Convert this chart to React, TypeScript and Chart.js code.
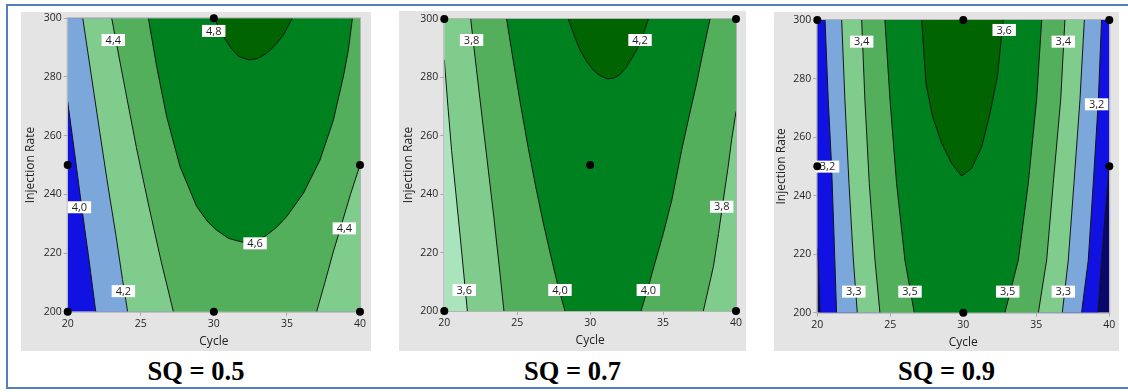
import { useEffect, useRef } from 'react';
import { Chart, registerables } from 'chart.js';

Chart.register(...registerables);

// [Cycle, Injection Rate]
type Pt = [number, number];
type Label = [string, number, number];
interface Band { color: string; poly: Pt[] }

const cycleRange: Pt = [20, 40];
const rateRange: Pt = [200, 300];
const cycleTicks = [20, 25, 30, 35, 40];
const rateTicks = [200, 220, 240, 260, 280, 300];

const NAVY = '#09096c';
const DARK_BLUE = '#1111e2';
const LIGHT_BLUE = '#7ba7db';
const PALE_GREEN = '#a9e4bd';
const LIGHT_GREEN = '#80cc8c';
const MID_GREEN = '#53af5b';
const GREEN = '#008120';
const DARK_GREEN = '#006400';

// ---- SQ = 0.5 contour lines ----
const sq05_40: Pt[] = [[20, 271.5], [20.45, 255], [20.95, 236], [21.45, 218], [21.92, 200]];
const sq05_42: Pt[] = [[21.03, 300], [21.6, 281], [22.2, 261], [22.75, 243], [23.3, 226], [23.75, 211], [24.1, 200]];
const sq05_44L: Pt[] = [[23.01, 300], [23.85, 278], [24.7, 256], [25.55, 236], [26.4, 217], [27.23, 200]];
const sq05_44R: Pt[] = [[37.03, 200], [37.6, 210], [38.15, 220], [38.75, 230], [39.35, 240], [40, 250]];
const sq05_46: Pt[] = [
  [25.52, 300], [26.09, 283.5], [26.77, 266.5], [27.69, 249.4], [28.83, 235.8], [29.6, 230.5],
  [30.19, 227.8], [31.0, 225], [31.79, 223.9], [32.4, 223.4], [33.0, 224.2], [33.61, 226.1],
  [34.3, 228.8], [34.98, 232.4], [36.12, 240.3], [37.26, 251.7], [38.18, 265.3], [38.86, 280.1],
  [39.2, 289], [39.48, 300],
];
const sq05_48: Pt[] = [
  [30.05, 300], [30.5, 295], [31.1, 290.3], [31.7, 287], [32.4, 285.8], [33.0, 286.3],
  [33.6, 288], [34.2, 290.8], [34.75, 294.3], [35.37, 300],
];
const sq05Labels: Label[] = [
  ['4,4', 23.12, 292.6], ['4,8', 29.99, 295.7], ['4,0', 20.8, 235.6],
  ['4,2', 23.81, 207], ['4,6', 32.82, 223.3], ['4,4', 38.93, 228.4],
];
const sq05Design: Pt[] = [[30, 300], [20, 250], [40, 250], [20, 200], [30, 200], [40, 200]];

// ---- SQ = 0.7 contour lines ----
const sq07_36: Pt[] = [[20, 286], [20.25, 270], [20.5, 255], [20.8, 240], [21.1, 225], [21.35, 212], [21.58, 200]];
const sq07_38L: Pt[] = [[21.81, 300], [22.2, 283], [22.6, 266], [23.0, 249], [23.4, 232], [23.75, 216], [24.09, 200]];
const sq07_38R: Pt[] = [[37.76, 200], [38.1, 207.5], [38.45, 215.2], [38.8, 226.5], [39.13, 238], [39.45, 249], [39.7, 258.6], [40, 268.3]];
const sq07_40L: Pt[] = [[24.27, 300], [24.75, 285], [25.25, 270], [25.75, 256], [26.25, 243], [26.75, 231], [27.25, 220], [27.75, 209.5], [28.27, 200]];
const sq07_40R: Pt[] = [[33.49, 200], [34.0, 208.5], [34.5, 217.5], [35.02, 226.6], [35.6, 238], [36.27, 255], [36.8, 267], [37.3, 278], [37.75, 289], [38.22, 300]];
const sq07_42: Pt[] = [
  [28.5, 300], [28.9, 294.5], [29.3, 289.4], [29.75, 285.5], [30.22, 282.5], [30.7, 280.5],
  [31.2, 279.5], [31.6, 279.7], [32.05, 281], [32.5, 283.7], [32.85, 286.5], [33.19, 289.4],
  [33.6, 294], [33.99, 300],
];
const sq07Labels: Label[] = [
  ['3,8', 21.87, 292.8], ['4,2', 33.42, 292.8], ['3,8', 39.02, 235.7],
  ['3,6', 21.37, 207.2], ['4,0', 27.93, 207.2], ['4,0', 33.99, 207.2],
];
const sq07Design: Pt[] = [[20, 300], [40, 300], [30, 250], [20, 200], [40, 200]];

// ---- SQ = 0.9 contour lines ----
const sq09_31L: Pt[] = [[20, 222], [20.1, 211], [20.2, 200]];
const sq09_31R: Pt[] = [[39.22, 200], [39.47, 218], [39.7, 232.8], [40, 250]];
const sq09_32L: Pt[] = [[20.53, 300], [20.75, 272.7], [20.98, 249.9], [21.14, 227.1], [21.32, 200]];
const sq09_32R: Pt[] = [[38.1, 200], [38.56, 218], [38.9, 244.2], [39.25, 272.7], [39.47, 300]];
const sq09_33L: Pt[] = [[21.67, 300], [21.89, 272.7], [22.17, 244.2], [22.47, 218], [22.74, 200]];
const sq09_33R: Pt[] = [[36.78, 200], [37.19, 218], [37.58, 244.2], [37.99, 272.7], [38.29, 300]];
const sq09_34L: Pt[] = [[23.04, 300], [23.26, 272.7], [23.56, 244.2], [23.95, 218], [24.29, 200]];
const sq09_34R: Pt[] = [[35.14, 200], [35.71, 218], [36.16, 244.2], [36.67, 272.7], [36.96, 300]];
const sq09_35L: Pt[] = [[24.63, 300], [24.98, 272.7], [25.43, 244.2], [26.0, 218], [26.64, 200]];
const sq09_35R: Pt[] = [[32.85, 200], [33.77, 218], [34.45, 244.2], [35.02, 272.7], [35.37, 300]];
const sq09_36: Pt[] = [
  [27.15, 300], [27.44, 278.4], [27.9, 267], [28.52, 257.9], [29.2, 251], [29.89, 246.7],
  [30.57, 249.3], [31.26, 256.7], [31.83, 268.1], [32.33, 280.6], [32.74, 300],
];
const sq09Labels: Label[] = [
  ['3,4', 23.04, 292.6], ['3,6', 32.8, 296.6], ['3,4', 36.85, 292.6], ['3,2', 39.13, 271.2],
  ['3,2', 20.7, 249.9], ['3,3', 22.5, 207.2], ['3,5', 26.35, 207.2], ['3,5', 33.04, 207.2],
  ['3,3', 36.85, 207.2],
];
const sq09Design: Pt[] = [[20, 300], [30, 300], [40, 300], [20, 250], [40, 250], [30, 200]];

const [c0, c1] = cycleRange;
const [r0, r1] = rateRange;
const full: Pt[] = [[c0, r0], [c1, r0], [c1, r1], [c0, r1]];

// Filled regions are painted from the lowest level up (each one is a superlevel set).
const sq05Bands: Band[] = [
  { color: DARK_BLUE, poly: full },
  { color: LIGHT_BLUE, poly: [...sq05_40, [c1, r0], [c1, r1], [c0, r1]] },
  { color: LIGHT_GREEN, poly: [...sq05_42, [c1, r0], [c1, r1]] },
  { color: MID_GREEN, poly: [...sq05_44L, ...sq05_44R, [c1, r1]] },
  { color: GREEN, poly: sq05_46 },
  { color: DARK_GREEN, poly: sq05_48 },
];
const sq07Bands: Band[] = [
  { color: PALE_GREEN, poly: full },
  { color: LIGHT_GREEN, poly: [...sq07_36, [c1, r0], [c1, r1], [c0, r1]] },
  { color: MID_GREEN, poly: [...sq07_38L, ...sq07_38R, [c1, r1]] },
  { color: GREEN, poly: [...sq07_40L, ...sq07_40R] },
  { color: DARK_GREEN, poly: sq07_42 },
];
const sq09Bands: Band[] = [
  { color: NAVY, poly: full },
  { color: DARK_BLUE, poly: [...sq09_31L, ...sq09_31R, [c1, r1], [c0, r1]] },
  { color: LIGHT_BLUE, poly: [...sq09_32L, ...sq09_32R] },
  { color: LIGHT_GREEN, poly: [...sq09_33L, ...sq09_33R] },
  { color: MID_GREEN, poly: [...sq09_34L, ...sq09_34R] },
  { color: GREEN, poly: [...sq09_35L, ...sq09_35R] },
  { color: DARK_GREEN, poly: sq09_36 },
];

const FONT = "'Open Sans', 'Noto Sans', sans-serif";

interface Box { left: number; top: number; width: number; height: number }
interface Area { left: number; top: number; right: number; bottom: number }
interface PanelProps {
  title: string;
  box: Box;
  plot: Area;
  bands: Band[];
  lines: Pt[][];
  labels: Label[];
  design: Pt[];
  yTitlePad: number;
  xTitlePad: number;
}

const toXY = (p: Pt[]) => p.map(([x, y]) => ({ x, y }));

function ContourPanel(props: PanelProps) {
  const ref = useRef<HTMLCanvasElement>(null);
  const { box, plot, title } = props;

  useEffect(() => {
    const datasets: any[] = [];
    props.bands.forEach((b, i) => {
      datasets.push({
        data: toXY(b.poly), fill: 'shape', backgroundColor: b.color,
        borderWidth: 0, pointRadius: 0, order: 100 - i,
      });
    });
    props.lines.forEach((l) => {
      datasets.push({
        data: toXY(l), fill: false, borderColor: '#161616', borderWidth: 1,
        pointRadius: 0, order: 10,
      });
    });
    datasets.push({
      label: 'design', data: toXY(props.design), showLine: false, fill: false,
      pointRadius: 4, pointBackgroundColor: '#000', pointBorderWidth: 0, order: 0, clip: false,
    });

    const overlay = {
      id: 'contourOverlay',
      beforeDatasetDraw(chart: any, args: any) {
        if (chart.data.datasets[args.index].label !== 'design') return;
        const { ctx, chartArea: a, scales } = chart;
        ctx.save();
        ctx.strokeStyle = '#b3b3b3';
        ctx.lineWidth = 1;
        ctx.strokeRect(a.left - 0.5, a.top - 0.5, a.right - a.left + 1, a.bottom - a.top + 1);
        ctx.font = `11px ${FONT}`;
        ctx.textAlign = 'center';
        ctx.textBaseline = 'middle';
        for (const [t, cx, cy] of props.labels) {
          const px = scales.x.getPixelForValue(cx);
          const py = scales.y.getPixelForValue(cy);
          const w = ctx.measureText(t).width + 8;
          const h = 12;
          ctx.fillStyle = '#ffffff';
          ctx.fillRect(px - w / 2, py - h / 2, w, h);
          ctx.fillStyle = '#1e1e1e';
          ctx.fillText(t, px, py + 0.5);
        }
        ctx.restore();
      },
    };

    const tickFont = { family: FONT, size: 10.5 };
    const titleFont = { family: FONT, size: 12 };
    const chart = new Chart(ref.current!, {
      type: 'line',
      data: { datasets },
      options: {
        animation: false,
        responsive: true,
        maintainAspectRatio: false,
        events: [],
        layout: {
          padding: { left: 0, top: plot.top - box.top, right: box.left + box.width - plot.right, bottom: 0 },
        },
        plugins: { legend: { display: false }, tooltip: { enabled: false } },
        scales: {
          x: {
            type: 'linear', min: cycleRange[0], max: cycleRange[1],
            afterBuildTicks: (s: any) => { s.ticks = cycleTicks.map((v) => ({ value: v })); },
            ticks: { color: '#262626', font: tickFont, padding: 2, maxRotation: 0 },
            grid: { drawOnChartArea: false, drawTicks: true, tickLength: 4, color: '#a8a8a8' },
            border: { display: false },
            title: { display: true, text: 'Cycle', color: '#222', font: titleFont, padding: { top: 0, bottom: props.xTitlePad } },
            afterFit: (s: any) => {
              s.height = box.top + box.height - plot.bottom;
              s.paddingLeft = 0;
              s.paddingRight = 0;
            },
          },
          y: {
            type: 'linear', min: rateRange[0], max: rateRange[1],
            afterBuildTicks: (s: any) => { s.ticks = rateTicks.map((v) => ({ value: v })); },
            ticks: { color: '#262626', font: tickFont, padding: 2 },
            grid: { drawOnChartArea: false, drawTicks: true, tickLength: 4, color: '#a8a8a8' },
            border: { display: false },
            title: { display: true, text: 'Injection Rate', color: '#222', font: titleFont, padding: { top: props.yTitlePad, bottom: 0 } },
            afterFit: (s: any) => {
              s.width = plot.left - box.left;
              s.paddingTop = 0;
              s.paddingBottom = 0;
            },
          },
        },
      } as any,
      plugins: [overlay],
    });
    return () => chart.destroy();
  }, []);

  return (
    <>
      <div
        style={{
          position: 'absolute', left: box.left, top: box.top, width: box.width, height: box.height,
          background: '#e4e4e4',
        }}
      >
        <canvas ref={ref} />
      </div>
      <div
        style={{
          position: 'absolute', left: box.left, top: 356, width: box.width, textAlign: 'center',
          font: "bold 26.5px 'Liberation Serif', 'Times New Roman', serif", lineHeight: '30px', color: '#000',
        }}
      >
        {title}
      </div>
    </>
  );
}

export default function App() {
  return (
    <div style={{ position: 'absolute', left: 0, top: 0, width: 1128, height: 392, background: '#fff', overflow: 'hidden' }}>
      <div
        style={{
          position: 'absolute', left: 6, top: 4, width: 1140, height: 385, boxSizing: 'border-box',
          border: '2px solid #4f81bd',
        }}
      />
      <ContourPanel
        title="SQ = 0.5"
        box={{ left: 21, top: 12, width: 350, height: 339 }}
        plot={{ left: 67.7, top: 18.3, right: 360, bottom: 311.7 }}
        bands={sq05Bands}
        lines={[sq05_40, sq05_42, sq05_44L, sq05_44R, sq05_46, sq05_48]}
        labels={sq05Labels}
        design={sq05Design}
        yTitlePad={2.5}
        xTitlePad={2}
      />
      <ContourPanel
        title="SQ = 0.7"
        box={{ left: 399, top: 11, width: 347, height: 340 }}
        plot={{ left: 444.3, top: 19, right: 736, bottom: 311 }}
        bands={sq07Bands}
        lines={[sq07_36, sq07_38L, sq07_38R, sq07_40L, sq07_40R, sq07_42]}
        labels={sq07Labels}
        design={sq07Design}
        yTitlePad={2.8}
        xTitlePad={3}
      />
      <ContourPanel
        title="SQ = 0.9"
        box={{ left: 774, top: 12, width: 345, height: 339 }}
        plot={{ left: 817.3, top: 20, right: 1109.3, bottom: 312.7 }}
        bands={sq09Bands}
        lines={[sq09_31L, sq09_31R, sq09_32L, sq09_32R, sq09_33L, sq09_33R, sq09_34L, sq09_34R, sq09_35L, sq09_35R, sq09_36]}
        labels={sq09Labels}
        design={sq09Design}
        yTitlePad={0}
        xTitlePad={1.5}
      />
    </div>
  );
}
